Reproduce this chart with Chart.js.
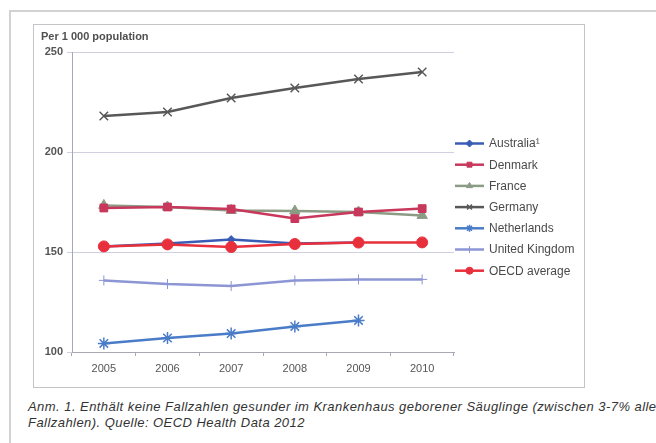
<!DOCTYPE html>
<html>
<head>
<meta charset="utf-8">
<script src="https://cdn.jsdelivr.net/npm/chart.js@4"></script>
<style>
  html, body { margin: 0; padding: 0; background: #fff; overflow: hidden; }
  body { width: 656px; height: 443px; position: relative; font-family: "Liberation Sans", Arial, sans-serif; }
  .page { position: absolute; left: 9px; top: 10px; width: 660px; height: 440px; border-top: 2px solid #d2d2d2; border-left: 2px solid #d2d2d2; }
  .box { position: absolute; left: 33px; top: 24px; width: 550px; height: 362px; border: 1px solid #c4c4c8; }
  .box canvas { position: absolute; left: 0; top: 0; }
  .unit { position: absolute; left: 41px; top: 30px; font-size: 11px; font-weight: bold; color: #505050; }
  .note { position: absolute; left: 28px; top: 399px; font-size: 13px; letter-spacing: 0.45px; font-style: italic; color: #333; line-height: 16px; white-space: nowrap; }
</style>
</head>
<body>
<div class="page"></div>
<div class="box"><canvas id="beds" width="550" height="362"></canvas></div>
<div class="unit">Per 1 000 population</div>
<div class="note">Anm. 1. Enthält keine Fallzahlen gesunder im Krankenhaus geborener Säuglinge (zwischen 3-7% aller<br>Fallzahlen). Quelle: OECD Health Data 2012</div>
<script>
const years = ['2005', '2006', '2007', '2008', '2009', '2010'];
const yTicks = [100, 150, 200, 250];

const australia = [152.8, 154.2, 156.2, 154.2, 154.8, null];
const denmark = [172, 172.5, 171.5, 166.7, 170, 171.7];
const france = [173.3, 172.5, 170.8, 170.5, 170, 168.3];
const germany = [218, 220, 227, 232, 236.5, 240];
const netherlands = [104.3, 107, 109.2, 112.8, 115.8, null];
const unitedKingdom = [135.8, 134, 133, 135.8, 136.3, 136.3];
const oecdAverage = [152.8, 153.8, 152.5, 154, 154.7, 154.8];

function series(label, data, color, style, radius, width, order) {
    return {
        label: label,
        data: data,
        borderColor: color,
        backgroundColor: color,
        borderWidth: 2.5,
        pointStyle: style,
        pointRadius: radius,
        pointBorderWidth: width,
        pointHoverRadius: radius,
        tension: 0,
        order: order
    };
}

// legend drawn at the right side: short line with the marker in the middle
const sideLegend = {
    id: 'sideLegend',
    afterDraw(chart) {
        const ctx = chart.ctx;
        ctx.save();
        chart.data.datasets.forEach((ds, i) => {
            const y = 118.5 + i * 21.2;
            ctx.strokeStyle = ds.borderColor;
            ctx.lineWidth = 2.5;
            ctx.beginPath();
            ctx.moveTo(421, y);
            ctx.lineTo(450, y);
            ctx.stroke();
            ctx.fillStyle = ds.backgroundColor;
            ctx.strokeStyle = ds.borderColor;
            ctx.lineWidth = ds.pointBorderWidth;
            Chart.helpers.drawPoint(ctx, { pointStyle: ds.pointStyle, radius: Math.min(ds.pointRadius, 3.5), rotation: 0, borderWidth: ds.pointBorderWidth }, 435.5, y);
            ctx.fillStyle = '#4a4a4a';
            ctx.font = '12px "Liberation Sans", Arial, sans-serif';
            ctx.textBaseline = 'middle';
            ctx.fillText(ds.label, 455, y + 0.5);
        });
        ctx.restore();
    }
};

new Chart(document.getElementById('beds').getContext('2d'), {
    type: 'line',
    data: {
        labels: years,
        datasets: [
            series('Australia\u00b9', australia, '#3a5cb4', 'rectRot', 4, 1, 3),
            series('Denmark', denmark, '#c8385c', 'rect', 5.5, 1, 2),
            series('France', france, '#8c9c84', 'triangle', 6, 1, 4),
            series('Germany', germany, '#585858', 'crossRot', 6, 1.5, 1),
            series('Netherlands', netherlands, '#4a7cc8', 'star', 6, 1.5, 1),
            series('United Kingdom', unitedKingdom, '#8c96d4', 'cross', 5, 1, 1),
            series('OECD average', oecdAverage, '#e8303c', 'circle', 5.5, 1, 0)
        ]
    },
    options: {
        responsive: false,
        animation: false,
        spanGaps: false,
        layout: { padding: { left: 0, right: 130, top: 27, bottom: 0 } },
        plugins: {
            legend: { display: false },
            tooltip: { enabled: false }
        },
        scales: {
            x: {
                offset: true,
                grid: {
                    offset: true,
                    drawOnChartArea: false,
                    tickLength: 4,
                    color: '#a8a8b4'
                },
                border: { color: '#a8a8b4', width: 1 },
                ticks: {
                    color: '#555',
                    padding: 6,
                    font: { family: '"Liberation Sans", Arial, sans-serif', size: 11 }
                },
                afterFit(scale) { scale.height = 35; }
            },
            y: {
                min: 100,
                max: 250,
                afterBuildTicks(scale) {
                    scale.ticks = yTicks.map(v => ({ value: v }));
                },
                grid: {
                    color: '#cfd0e0',
                    tickLength: 5,
                    lineWidth: 1
                },
                border: { color: '#a8a8b4', width: 1 },
                ticks: {
                    color: '#555',
                    padding: 4,
                    font: { family: '"Liberation Sans", Arial, sans-serif', size: 11, weight: 'bold' }
                },
                afterFit(scale) { scale.width = 38; }
            }
        }
    },
    plugins: [sideLegend]
});
</script>
</body>
</html>
